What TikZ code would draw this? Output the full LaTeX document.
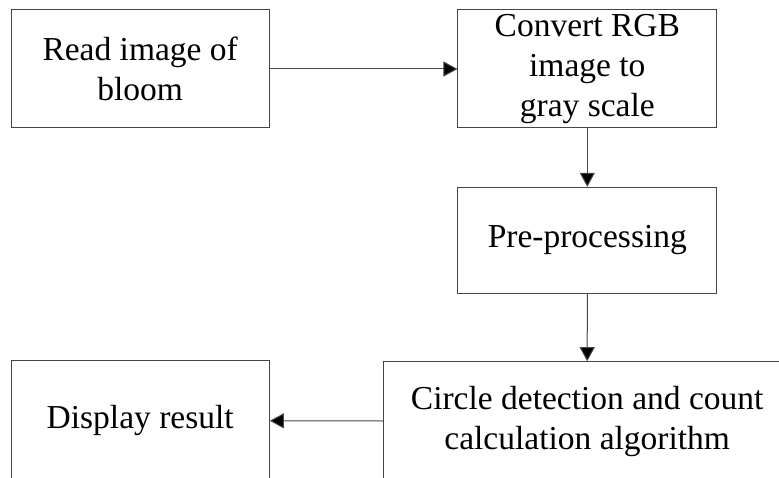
\documentclass[tikz,border=0pt]{standalone}
\usepackage{fontspec}
\setmainfont{Liberation Serif}
\usetikzlibrary{arrows.meta}
\definecolor{linegray}{RGB}{70,70,70}
\tikzset{
  box/.style={draw=linegray, line width=1pt, rectangle, inner sep=0pt, align=center,
    font=\fontsize{33.5}{40}\selectfont},
  conn/.style={draw=linegray, line width=1pt, -{Triangle[length=14pt,width=15pt,fill=black]}}
}
\begin{document}
\begin{tikzpicture}[x=1pt,y=-1pt]
\useasboundingbox (0,0) rectangle (779,478);
\clip (0,0) rectangle (779,478);
\node[box, minimum width=258.3pt, minimum height=118pt] (b1) at (140.2,69) {Read image of\\bloom};
\node[box, minimum width=258.7pt, minimum height=118pt] (b2) at (587.3,69) {Convert RGB\\image to\\ gray scale};
\node[box, minimum width=258.7pt, minimum height=106pt] (b3) at (587.3,240.3) {Pre-processing};
\node[box, minimum width=407.7pt, minimum height=118.6pt] (b4) at (587.2,421) {Circle detection and count\\calculation algorithm};
\node[box, minimum width=258.3pt, minimum height=120pt] (b5) at (140.2,420.8) {Display result};
\draw[conn] (b1.east) -- (b2.west);
\draw[conn] (b2.south) -- (b3.north);
\draw[conn] (b3.south) -- (b4.north);
\draw[conn] (b4.west) -- (b5.east);
\end{tikzpicture}
\end{document}
